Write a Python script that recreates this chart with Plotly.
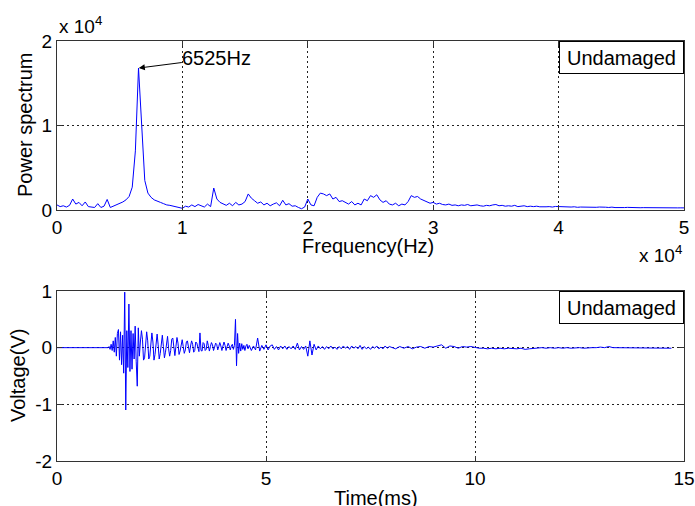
import numpy as np
import plotly.graph_objects as go

# ---------------- data ----------------
# Power spectrum, sampled every 250 Hz from 0 Hz to 50000 Hz
spec_df_hz = 250
power = [
    600, 400, 500, 350,
    550, 1300, 700, 900,
    500, 950, 400, 350,
    300, 750, 300, 450,
    1250, 300, 450, 600,
    800, 950, 1200, 1600,
    2700, 7000, 16800, 9500,
    3500, 2000, 1500, 1200,
    1000, 900, 750, 600,
    550, 450, 400, 300,
    200, 450, 350, 600,
    400, 650, 500, 350,
    700, 400, 2600, 1300,
    900, 700, 550, 800,
    500, 900, 600, 700,
    1000, 1900, 1400, 1100,
    800, 950, 600, 800,
    500, 700, 850, 500,
    1150, 600, 750, 450,
    500, 300, 150, 350,
    1300, 600, 500, 1500,
    2000, 1900, 1700, 1900,
    1300, 1500, 1000, 1100,
    900, 700, 1000, 600,
    800, 600, 1300, 1100,
    1700, 1500, 1800, 1200,
    900, 1100, 700, 600,
    800, 500, 700, 600,
    1000, 1700, 1500, 1600,
    1300, 1100, 900, 800,
    900, 700, 800, 650,
    600, 700, 550, 600,
    500, 600, 550, 650,
    500, 550, 600, 500,
    450, 550, 500, 600,
    650, 500, 550, 450,
    500, 450, 550, 400,
    450, 500, 400, 450,
    400, 450, 380, 420,
    380, 400, 350, 420,
    400, 350, 380, 330,
    350, 380, 320, 350,
    330, 360, 310, 340,
    320, 350, 300, 330,
    300, 340, 290, 320,
    300, 290, 310, 280,
    290, 300, 270, 280,
    270, 280, 260, 270,
    260, 270, 255, 265,
    260, 255, 250, 255,
    250,
]
peak_freq_hz = 6525
peak_label = "6525Hz"

# Voltage signal, in segments: (start time ms, step ms, values V)
seg_quiet = (0.0, 1.22, [0.0, 0.0])
seg_burst = (1.22, 0.025, [
    0.0, 0.02, -0.03, 0.06, -0.05, 0.12, -0.08, 0.18, -0.15, 0.25,
    0.32, -0.22, 0.28, -0.30, 0.22, -0.45, 0.98, -1.10, 0.30, -0.35,
    0.77, -0.42, 0.30, -0.38, 0.25, -0.20, 0.38, -0.25, -0.68, 0.35,
    -0.15, 0.10, 0.30, 0.15, -0.22, -0.18, 0.08, 0.28, 0.12, -0.20,
    -0.15, 0.05, 0.26, 0.10, -0.22, -0.12, 0.06, 0.24, 0.05, -0.20,
    -0.10, 0.10, 0.22, 0.02, -0.18, -0.08, 0.12, 0.20, -0.02, -0.15,
    -0.05, 0.15, 0.17, -0.04, -0.14, 0.02, 0.18, 0.08, -0.12, -0.06,
    0.08, 0.14, 0.02, -0.10, -0.04, 0.10, 0.12, -0.02, -0.09, 0.03,
    0.12, 0.06, -0.08, -0.05, 0.10, 0.08, -0.03, -0.07, 0.26, -0.05,
    -0.06, 0.09, 0.07, -0.05, -0.03, 0.12, 0.04, -0.06, 0.02, 0.09,
    0.05, -0.05, 0.01, 0.08, 0.06, -0.04, 0.02, 0.09, 0.03, -0.05,
    0.03, 0.10, 0.04, -0.05, 0.02, 0.08, 0.03, -0.04, 0.03, 0.06,
    -0.03, 0.04, 0.50, -0.32, 0.25, -0.10, 0.08, -0.06, 0.07, -0.03,
    0.04, -0.05, 0.03, 0.06, -0.02, 0.03,
])
seg_tail = (4.6, 0.05, [
    0.04, -0.05, 0.03, -0.04, 0.17, -0.06, 0.04, -0.03, 0.05, -0.04,
    0.03, 0.05, -0.03, 0.02, -0.04, 0.03, -0.02, 0.03, -0.03, 0.02,
    -0.02, 0.03, -0.03, 0.08, -0.04, 0.02, -0.03, 0.03, -0.15, 0.12,
    -0.13, 0.06, -0.04, 0.03, -0.02, 0.02, -0.03, 0.02, -0.02, 0.03,
    -0.02, 0.01, -0.03, 0.02, -0.02, 0.03, -0.01, 0.02, -0.03, 0.03,
    -0.01, 0.02, -0.02, 0.04, -0.03, 0.02, -0.02, 0.01, -0.03, 0.02,
    -0.01, 0.03, -0.02, 0.01, -0.02, 0.03, -0.01, 0.02,
])
seg_late = (8.0, 0.1, [
    0.01, -0.02, 0.02, -0.01, 0.02, -0.02, 0.01, 0.02, -0.01, 0.02,
    0.01, 0.03, 0.05, -0.01, 0.03, 0.02, -0.01, 0.02, 0.01, 0.02,
    0.0, -0.01, -0.01, -0.02, -0.01, -0.02, -0.01, -0.02, -0.01, -0.02,
    -0.02, -0.01, -0.03, -0.02, -0.01, -0.01, 0.0, -0.01, 0.0, -0.01,
    0.0, -0.01, 0.0, -0.01, 0.0, 0.0, -0.01, 0.0, 0.0, 0.0,
    0.01, 0.0, 0.02, 0.0, 0.0, -0.01, 0.0, 0.0, 0.0, 0.0,
    -0.01, 0.0, 0.0, -0.01, 0.0, -0.01, 0.0, -0.01,
])

freq_ticks = [0, 10000, 20000, 30000, 40000, 50000]
freq_tick_text = ["0", "1", "2", "3", "4", "5"]
power_ticks = [0, 10000, 20000]
power_tick_text = ["0", "1", "2"]
time_ticks = [0, 5, 10, 15]
time_tick_text = ["0", "5", "10", "15"]
volt_ticks = [-2, -1, 0, 1]
volt_tick_text = ["-2", "-1", "0", "1"]
legend_text = "Undamaged"

# ---------------- build ----------------
W, H = 695, 506
def px(p):
    return p / W
def py(p):
    return 1 - p / H

time_ms, volt = [], []
for start, step, vals in (seg_quiet, seg_burst, seg_tail, seg_late):
    time_ms.extend((start + step * np.arange(len(vals))).tolist())
    volt.extend(vals)

FONT = "Liberation Sans, Arial, sans-serif"
AX = "#333333"
BLUE = "#0000ff"

fig = go.Figure()
fig.add_trace(go.Scatter(y=power, x0=0, dx=spec_df_hz, mode="lines",
                         line=dict(color=BLUE, width=1), xaxis="x", yaxis="y",
                         showlegend=False, hoverinfo="skip"))
fig.add_trace(go.Scatter(x=time_ms, y=volt, mode="lines",
                         line=dict(color=BLUE, width=1), xaxis="x2", yaxis="y2",
                         showlegend=False, hoverinfo="skip"))

common = dict(showline=True, linecolor=AX, linewidth=1, mirror="ticks",
              ticks="inside", ticklen=5, tickcolor=AX, tickwidth=1,
              showgrid=True, gridcolor="#222222", gridwidth=1, griddash="2px,3px",
              zeroline=False, automargin=False,
              tickfont=dict(family=FONT, size=19, color="black"))

fig.update_layout(
    width=W, height=H, margin=dict(l=0, r=0, t=0, b=0),
    paper_bgcolor="white", plot_bgcolor="white",
    xaxis=dict(domain=[px(57), px(684)], range=[0, 50000], anchor="y",
               tickvals=freq_ticks, ticktext=freq_tick_text, **common),
    yaxis=dict(domain=[py(210), py(41)], range=[0, 20000], anchor="x",
               tickvals=power_ticks, ticktext=power_tick_text, **common),
    xaxis2=dict(domain=[px(57), px(684)], range=[0, 15], anchor="y2",
                tickvals=time_ticks, ticktext=time_tick_text, **common),
    yaxis2=dict(domain=[py(461), py(291)], range=[-2, 1], anchor="x2",
                tickvals=volt_ticks, ticktext=volt_tick_text, **common),
)

f20 = dict(family=FONT, size=20, color="black")
f19 = dict(family=FONT, size=19, color="black")
ann = [
    dict(text="Power spectrum", x=px(25), y=py(125), textangle=-90, font=f20),
    dict(text="Frequency(Hz)", x=px(368), y=py(246), font=f20),
    dict(text="Voltage(V)", x=px(18), y=py(376), textangle=-90, font=f20),
    dict(text="Time(ms)", x=px(376), y=py(498), font=f20),
    dict(text="x 10<sup>4</sup>", x=px(57), y=py(25), xanchor="left", font=f19),
    dict(text="x 10<sup>4</sup>", x=px(637), y=py(254), xanchor="left", font=f19),
]
for a in ann:
    a.setdefault("xref", "paper")
    a.setdefault("yref", "paper")
    a.setdefault("xanchor", "center")
    a.setdefault("yanchor", "middle")
    a.setdefault("showarrow", False)
    fig.add_annotation(**a)

for top in (41, 291):
    fig.add_annotation(text=legend_text, xref="paper", yref="paper",
                       x=px(684), y=py(top), xanchor="right", yanchor="top",
                       showarrow=False, font=f20, bordercolor="black",
                       borderwidth=1, bgcolor="white", borderpad=3,
                       width=117, height=25)

fig.add_annotation(x=peak_freq_hz, y=max(power), xref="x", yref="y",
                   text=peak_label, font=f20, showarrow=True,
                   arrowhead=2, arrowsize=1.2, arrowwidth=1, arrowcolor="black",
                   ax=78, ay=-10, borderpad=0)

fig.write_html("out.html", config={"displayModeBar": False},
               post_script="document.body.style.margin='0';document.body.style.overflow='hidden';")
